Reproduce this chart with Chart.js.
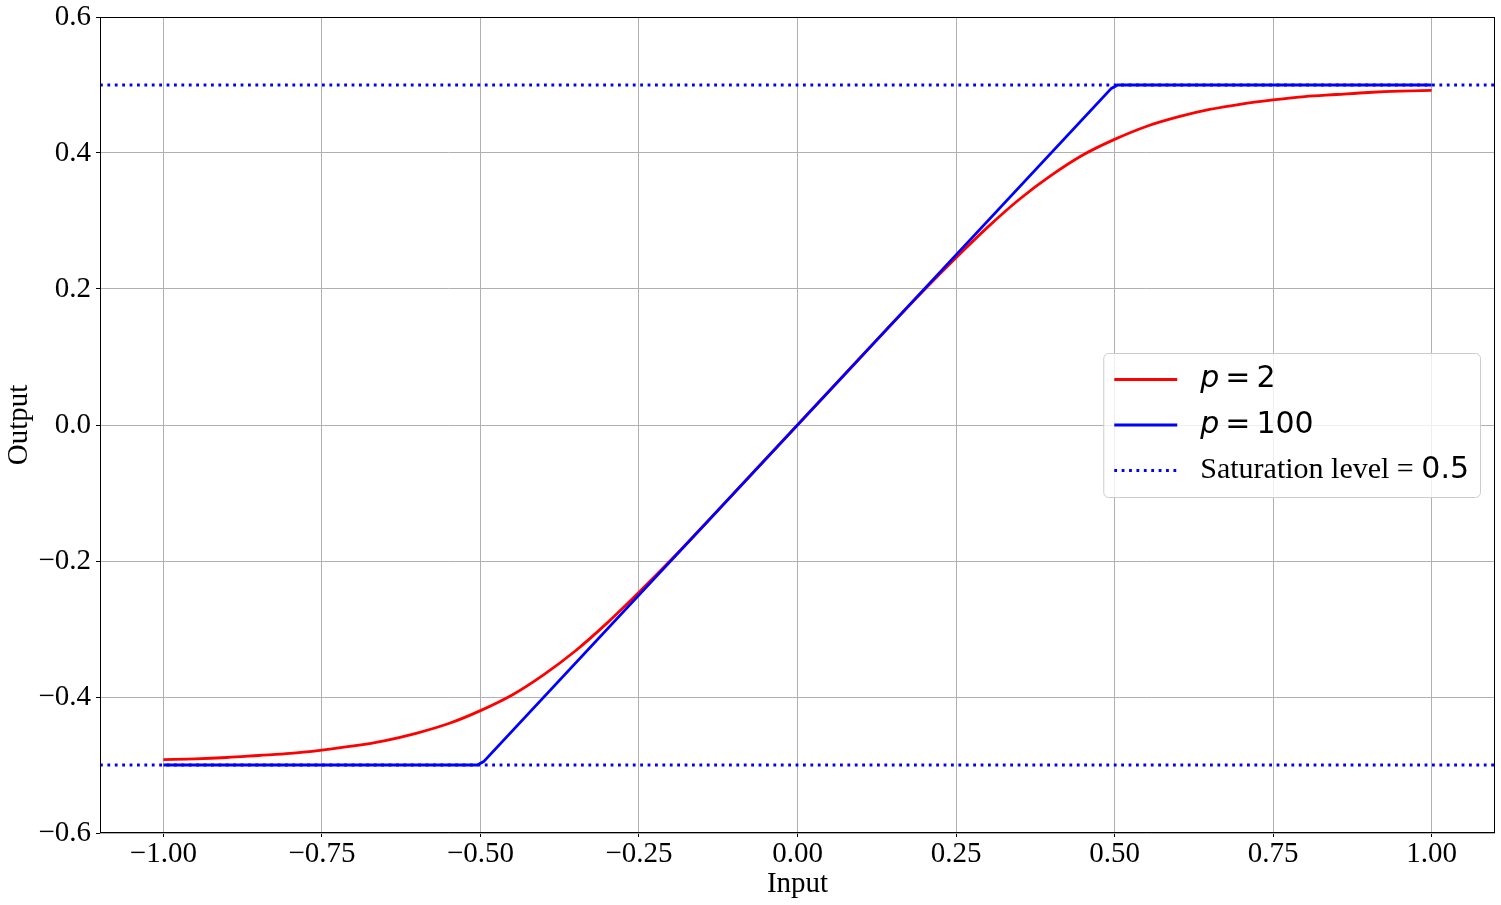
<!DOCTYPE html>
<html>
<head>
<meta charset="utf-8">
<title>Saturation curves</title>
<script src="https://cdn.jsdelivr.net/npm/chart.js@4.4.0/dist/chart.umd.min.js"></script>
<style>
  html, body { margin: 0; padding: 0; background: #ffffff; }
  #wrap { width: 1501px; height: 905px; }
</style>
</head>
<body>
<div id="wrap"><canvas id="satChart" width="1501" height="905"></canvas></div>
<script>
// Input values (x) for the smooth curve, every 0.05
const inputs = [
  -1.00, -0.95, -0.90, -0.85, -0.80, -0.75, -0.70, -0.65, -0.60, -0.55,
  -0.50, -0.45, -0.40, -0.35, -0.30, -0.25, -0.20, -0.15, -0.10, -0.05,
   0.00,  0.05,  0.10,  0.15,  0.20,  0.25,  0.30,  0.35,  0.40,  0.45,
   0.50,  0.55,  0.60,  0.65,  0.70,  0.75,  0.80,  0.85,  0.90,  0.95, 1.00
];
// p = 2 (red)
const outputP2 = [
  -0.492, -0.491, -0.489, -0.486, -0.483, -0.478, -0.472, -0.464, -0.453, -0.439,
  -0.420, -0.397, -0.367, -0.332, -0.291, -0.246, -0.199, -0.150, -0.100, -0.050,
   0.000,  0.050,  0.100,  0.150,  0.199,  0.246,  0.291,  0.332,  0.367,  0.397,
   0.420,  0.439,  0.453,  0.464,  0.472,  0.478,  0.483,  0.486,  0.489,  0.491, 0.492
];
// p = 100 (blue), practically a hard clip
const inputsP100 = [-1.00, -0.505, -0.495, 0.495, 0.505, 1.00];
const outputP100 = [-0.500, -0.500, -0.495, 0.495, 0.500, 0.500];
// saturation level lines across the whole axis
const saturationInputs = [-1.1, 1.1];
const saturationLevel = 0.5;

const xTicks = [-1.00, -0.75, -0.50, -0.25, 0.00, 0.25, 0.50, 0.75, 1.00];
const yTicks = [-0.6, -0.4, -0.2, 0.0, 0.2, 0.4, 0.6];

const serif = '"Liberation Serif", "Times New Roman", serif';
const sans = '"DejaVu Sans", sans-serif';

function pairs(xs, ys) {
  return xs.map((x, i) => ({ x: x, y: ys[i] }));
}

function minusSign(s) {
  return s.replace('-', '\u2212');
}

// legend labels with mixed fonts (math text like matplotlib)
const legendLabels = [
  [{ t: 'p', f: 'italic 30px ' + sans }, { t: '\u2009=\u20092', f: '30px ' + sans }],
  [{ t: 'p', f: 'italic 30px ' + sans }, { t: '\u2009=\u2009100', f: '30px ' + sans }],
  [{ t: 'Saturation level = ', f: '30px ' + serif }, { t: '0.5', f: '30px ' + sans }]
];

// frame around the plot area + boxed legend in the middle right
const framePlugin = {
  id: 'frameAndLegend',
  afterDraw(chart) {
    const ctx = chart.ctx;
    const a = chart.chartArea;
    ctx.save();
    ctx.strokeStyle = '#000000';
    ctx.lineWidth = 1;
    ctx.strokeRect(a.left + 0.5, a.top + 0.5, a.right - a.left - 1, a.bottom - a.top - 1);

    // measure the legend
    let textW = 0;
    legendLabels.forEach(segs => {
      let w = 0;
      segs.forEach(s => { ctx.font = s.f; w += ctx.measureText(s.t).width; });
      textW = Math.max(textW, w);
    });
    const pad = 11, lineLen = 63, gap = 23, rowH = 45.5;
    const boxW = pad + lineLen + gap + textW + pad;
    const boxH = 144;
    const right = a.right - 15;
    const left = right - boxW;
    const midY = (a.top + a.bottom) / 2;
    const top = midY - boxH / 2;

    ctx.beginPath();
    ctx.roundRect(left + 0.5, top + 0.5, boxW, boxH, 5);
    ctx.fillStyle = 'rgba(255,255,255,0.8)';
    ctx.fill();
    ctx.strokeStyle = '#cccccc';
    ctx.stroke();

    const legendSets = chart.data.datasets.filter(d => d.inLegend);
    legendSets.forEach((ds, i) => {
      const cy = midY + (i - (legendSets.length - 1) / 2) * rowH;
      ctx.beginPath();
      ctx.strokeStyle = ds.borderColor;
      ctx.lineWidth = ds.borderWidth;
      ctx.setLineDash(ds.borderDash || []);
      ctx.lineCap = 'butt';
      ctx.moveTo(left + pad, cy);
      ctx.lineTo(left + pad + lineLen, cy);
      ctx.stroke();
      ctx.setLineDash([]);

      let tx = left + pad + lineLen + gap;
      ctx.fillStyle = '#000000';
      ctx.textBaseline = 'middle';
      ctx.textAlign = 'left';
      legendLabels[i].forEach(s => {
        ctx.font = s.f;
        ctx.fillText(s.t, tx, cy);
        tx += ctx.measureText(s.t).width;
      });
    });
    ctx.restore();
  }
};

const ctx = document.getElementById('satChart').getContext('2d');
const satChart = new Chart(ctx, {
  type: 'line',
  data: {
    datasets: [
      {
        label: 'p = 2',
        inLegend: true,
        data: pairs(inputs, outputP2),
        borderColor: '#ff0000',
        borderWidth: 2.8,
        pointRadius: 0,
        cubicInterpolationMode: 'monotone',
        order: 3
      },
      {
        label: 'p = 100',
        inLegend: true,
        data: pairs(inputsP100, outputP100),
        borderColor: '#0000ff',
        borderWidth: 2.8,
        pointRadius: 0,
        order: 2
      },
      {
        label: 'Saturation level = 0.5',
        inLegend: true,
        data: pairs(saturationInputs, saturationInputs.map(() => saturationLevel)),
        borderColor: '#0000ff',
        borderWidth: 2.8,
        borderDash: [2.8, 4.6],
        borderCapStyle: 'butt',
        pointRadius: 0,
        order: 1
      },
      {
        label: 'lower saturation',
        inLegend: false,
        data: pairs(saturationInputs, saturationInputs.map(() => -saturationLevel)),
        borderColor: '#0000ff',
        borderWidth: 2.8,
        borderDash: [2.8, 4.6],
        borderCapStyle: 'butt',
        pointRadius: 0,
        order: 1
      }
    ]
  },
  options: {
    responsive: false,
    animation: false,
    devicePixelRatio: 1,
    layout: { padding: { top: 17, right: 6, left: 0, bottom: 0 } },
    plugins: {
      legend: { display: false },
      tooltip: { enabled: false }
    },
    scales: {
      x: {
        type: 'linear',
        min: -1.1,
        max: 1.1,
        afterBuildTicks: scale => { scale.ticks = xTicks.map(v => ({ value: v })); },
        afterFit: scale => {
          scale.height = 72;
          scale.paddingLeft = 0;
          scale.paddingRight = 0;
        },
        ticks: {
          color: '#000000',
          font: { family: serif, size: 29 },
          padding: 0,
          maxRotation: 0,
          autoSkip: false,
          callback: v => minusSign(Number(v).toFixed(2))
        },
        grid: { color: '#b0b0b0', lineWidth: 1, tickLength: 4, tickColor: '#000000' },
        border: { display: false },
        title: {
          display: true,
          text: 'Input',
          color: '#000000',
          font: { family: serif, size: 29 },
          padding: { top: 0, bottom: 3 }
        }
      },
      y: {
        type: 'linear',
        min: -0.6,
        max: 0.6,
        afterBuildTicks: scale => { scale.ticks = yTicks.map(v => ({ value: v })); },
        afterFit: scale => {
          scale.width = 100;
          scale.paddingTop = 0;
          scale.paddingBottom = 0;
        },
        ticks: {
          color: '#000000',
          font: { family: serif, size: 29 },
          padding: 5,
          autoSkip: false,
          callback: v => minusSign(Number(v).toFixed(1))
        },
        grid: { color: '#b0b0b0', lineWidth: 1, tickLength: 4, tickColor: '#000000' },
        border: { display: false },
        title: {
          display: true,
          text: 'Output',
          color: '#000000',
          font: { family: serif, size: 29 },
          padding: { top: 2, bottom: 4 }
        }
      }
    }
  },
  plugins: [framePlugin]
});
</script>
</body>
</html>
